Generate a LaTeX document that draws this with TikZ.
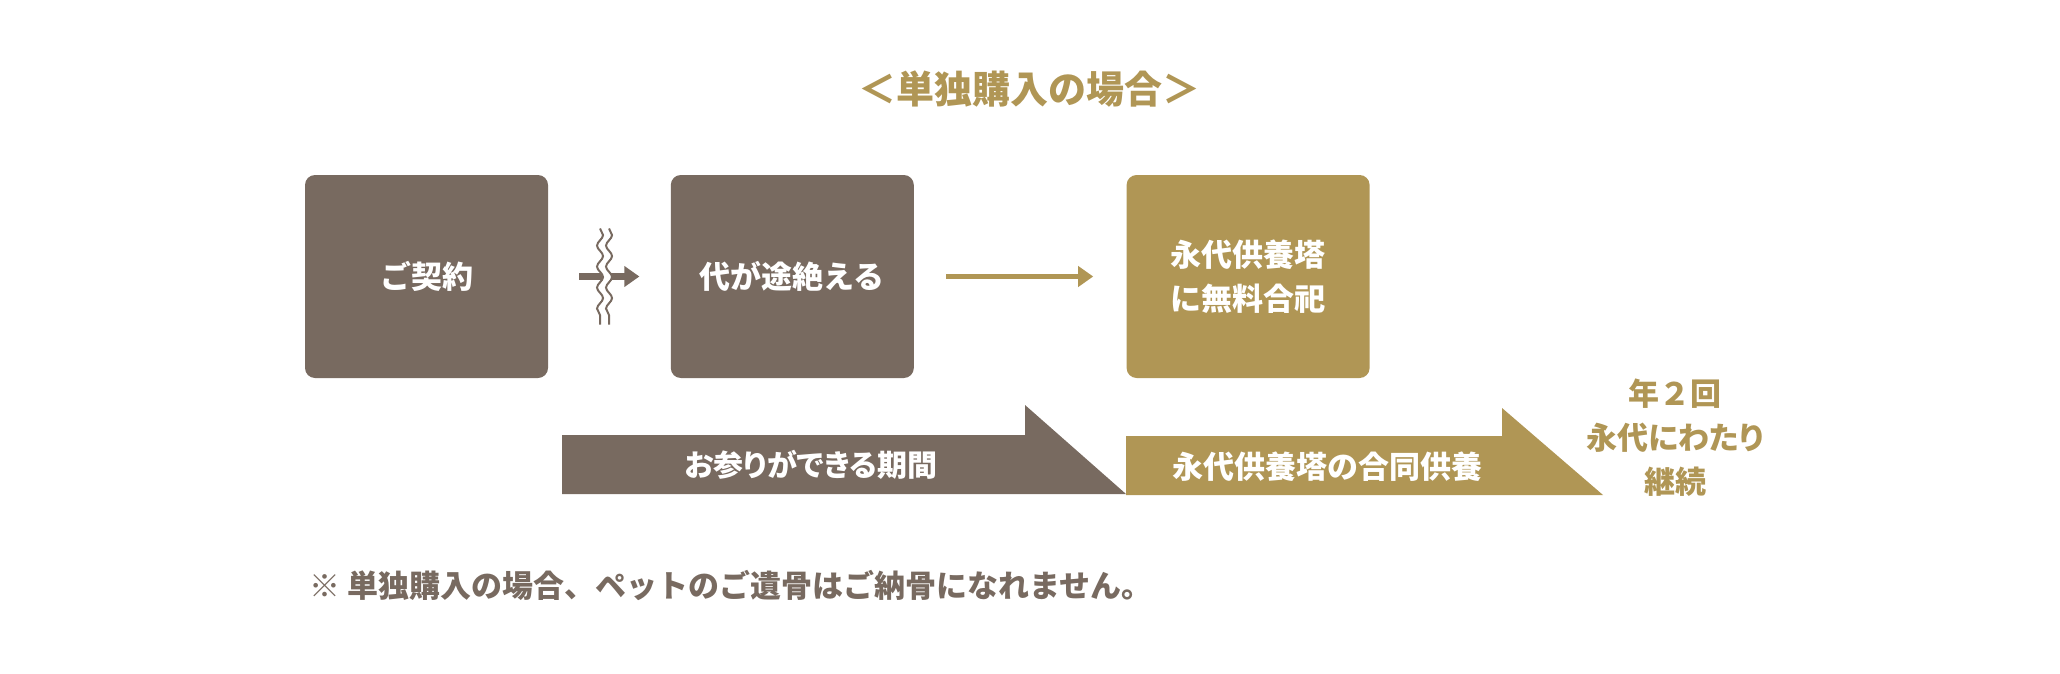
\documentclass[tikz,border=0pt]{standalone}
\usepackage{fontspec}
\setmainfont{Noto Sans CJK JP}
\newfontfamily\kanafont{Noto Sans CJK JP}[RawFeature=+palt]
\usetikzlibrary{arrows.meta, positioning, calc, decorations.pathmorphing}
\definecolor{urnbrown}{HTML}{786A60}
\definecolor{urngold}{HTML}{B09655}

\begin{document}
\begin{tikzpicture}[
  x=0.5pt, y=-0.5pt,
  every node/.style={inner sep=0pt},
  stagebox/.style={rounded corners=5pt, minimum width=121.5pt, minimum height=101.5pt,
    text=white, align=center, font=\fontsize{15.5}{22}\selectfont\bfseries},
  bannertext/.style={text=white, font=\fontsize{15.5}{20}\selectfont\bfseries},
  goldtext/.style={text=urngold, align=center, font=\fontsize{15.5}{22}\selectfont\bfseries},
  breakline/.style={decorate, decoration={snake, segment length=10.5pt, amplitude=1.5pt}},
  flowarrow/.style={-{Triangle[length=7.5pt, width=10pt]}}
]
\useasboundingbox (0,0) rectangle (2060,674);

% title
\node[goldtext, font=\fontsize{19}{22}\selectfont\bfseries] (title) at (1029,89) {＜単独購入の場合＞};

% the three stages
\node[stagebox, fill=urnbrown] (contract) at (426.5,276.5) {ご契約};
\node[stagebox, fill=urnbrown, right=61pt of contract] (extinct) {代が途絶える};
\node[stagebox, fill=urngold, right=106pt of extinct] (tower) {永代供養塔\\に無料合祀};

% arrows between stages
\draw[flowarrow, urnbrown, line width=3.25pt, shorten <=15.5pt, shorten >=15.5pt] (contract) -- (extinct);
\coordinate (break) at ($(contract.east)!0.46!(extinct.west)$);
\draw[white, line width=4pt, breakline] ([yshift=24pt]break) -- ([yshift=-24pt]break);
\foreach \dx in {-2.25pt, 2.25pt}
  \draw[urnbrown, line width=1pt, breakline] ([xshift=\dx, yshift=24pt]break) -- ([xshift=\dx, yshift=-24pt]break);
\draw[flowarrow, urngold, line width=2.5pt, shorten <=16pt, shorten >=16.5pt] (extinct) -- (tower);

% periods
\fill[urnbrown] (562,435) -- (1025,435) -- (1025,405) -- (1126,494) -- (562,494) -- cycle;
\node[bannertext, font=\fontsize{15}{20}\selectfont\kanafont\bfseries] (visit) at (811,465) {お参りができる期間};
\fill[urngold] (1126,436) -- (1502,436) -- (1502,408) -- (1603,495) -- (1126,495) -- cycle;
\node[bannertext] (memorial) at (1327,467) {永代供養塔の合同供養};
\node[goldtext] (yearly) at (1675,438) {年２回\\{\kanafont 永代にわたり}\\継続};

% note
\node[anchor=west, text=urnbrown, font=\fontsize{15.5}{22}\selectfont\bfseries] (note) at (309,585)
  {※ 単独購入の場合、ペットのご遺骨はご納骨になれません。};
\end{tikzpicture}
\end{document}
